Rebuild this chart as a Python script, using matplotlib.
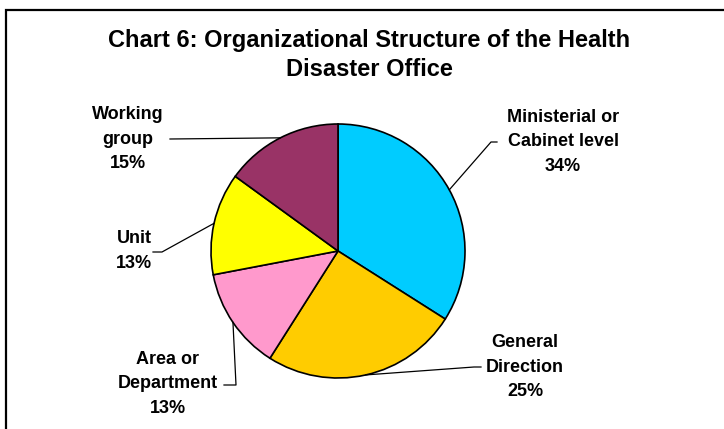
import numpy as np
import matplotlib
matplotlib.use('Agg')
import matplotlib.pyplot as plt
from matplotlib.patches import Rectangle
from matplotlib.lines import Line2D

# Dane wykresu
categories = ['Ministerial or\nCabinet level', 'General\nDirection', 'Area or\nDepartment',
              'Unit', 'Working\ngroup']
shares = [34, 25, 13, 13, 15]
colors = ['#00CCFF', '#FFCC00', '#FF99CC', '#FFFF00', '#993366']
title = 'Chart 6: Organizational Structure of the Health\nDisaster Office'

W, H = 724, 429
fig = plt.figure(figsize=(W / 100, H / 100), dpi=100)
plt.rcParams['font.family'] = ['Liberation Sans', 'DejaVu Sans']


def fx(x):
    return x / W


def fy(y):
    return 1 - y / H


# ramka wykresu (wychodzi poza prawą i dolną krawędź)
fig.patches.append(Rectangle((fx(6), fy(440)), fx(740), 430 / H, transform=fig.transFigure,
                             fill=False, edgecolor='black', linewidth=1.6))

fig.text(fx(369), fy(55), title, ha='center', va='center', fontsize=17,
         fontweight='bold', linespacing=1.32)

# kolo: srodek (338, 251), promien 127 px
cx, cy, r = 338, 251, 127
ax = fig.add_axes([fx(cx - r), fy(cy + r), 2 * r / W, 2 * r / H])
wedges, _ = ax.pie(shares, colors=colors, startangle=90, counterclock=False,
                   radius=1.0, wedgeprops=dict(edgecolor='black', linewidth=1.2))
ax.set_xlim(-1, 1)
ax.set_ylim(-1, 1)
ax.set_aspect('equal')
ax.axis('off')

# pozycje etykiet (srodek tekstu) i lamane linii odniesienia
label_pos = [(563, 142), (525, 367), (168, 384), (134, 251), (128, 139)]
leader_pts = [
    [(491, 142), (497, 142)],
    [(474, 367), (481, 367)],
    [(236, 385), (224, 385)],
    [(162, 252), (153, 252)],
    [(170, 139)],
]

for w, cat, s, (lx, ly), pts in zip(wedges, categories, shares, label_pos, leader_pts):
    ang = np.deg2rad((w.theta1 + w.theta2) / 2)
    ax_x = cx + r * np.cos(ang)
    ax_y = cy - r * np.sin(ang)
    xs = [ax_x] + [p[0] for p in pts]
    ys = [ax_y] + [p[1] for p in pts]
    fig.lines.append(Line2D([fx(x) for x in xs], [fy(y) for y in ys], transform=fig.transFigure,
                            color='black', linewidth=0.9))
    fig.text(fx(lx), fy(ly), f'{cat}\n{s}%', ha='center', va='center', fontsize=13,
             fontweight='bold', linespacing=1.6)

fig.savefig('out.png', dpi=100)
